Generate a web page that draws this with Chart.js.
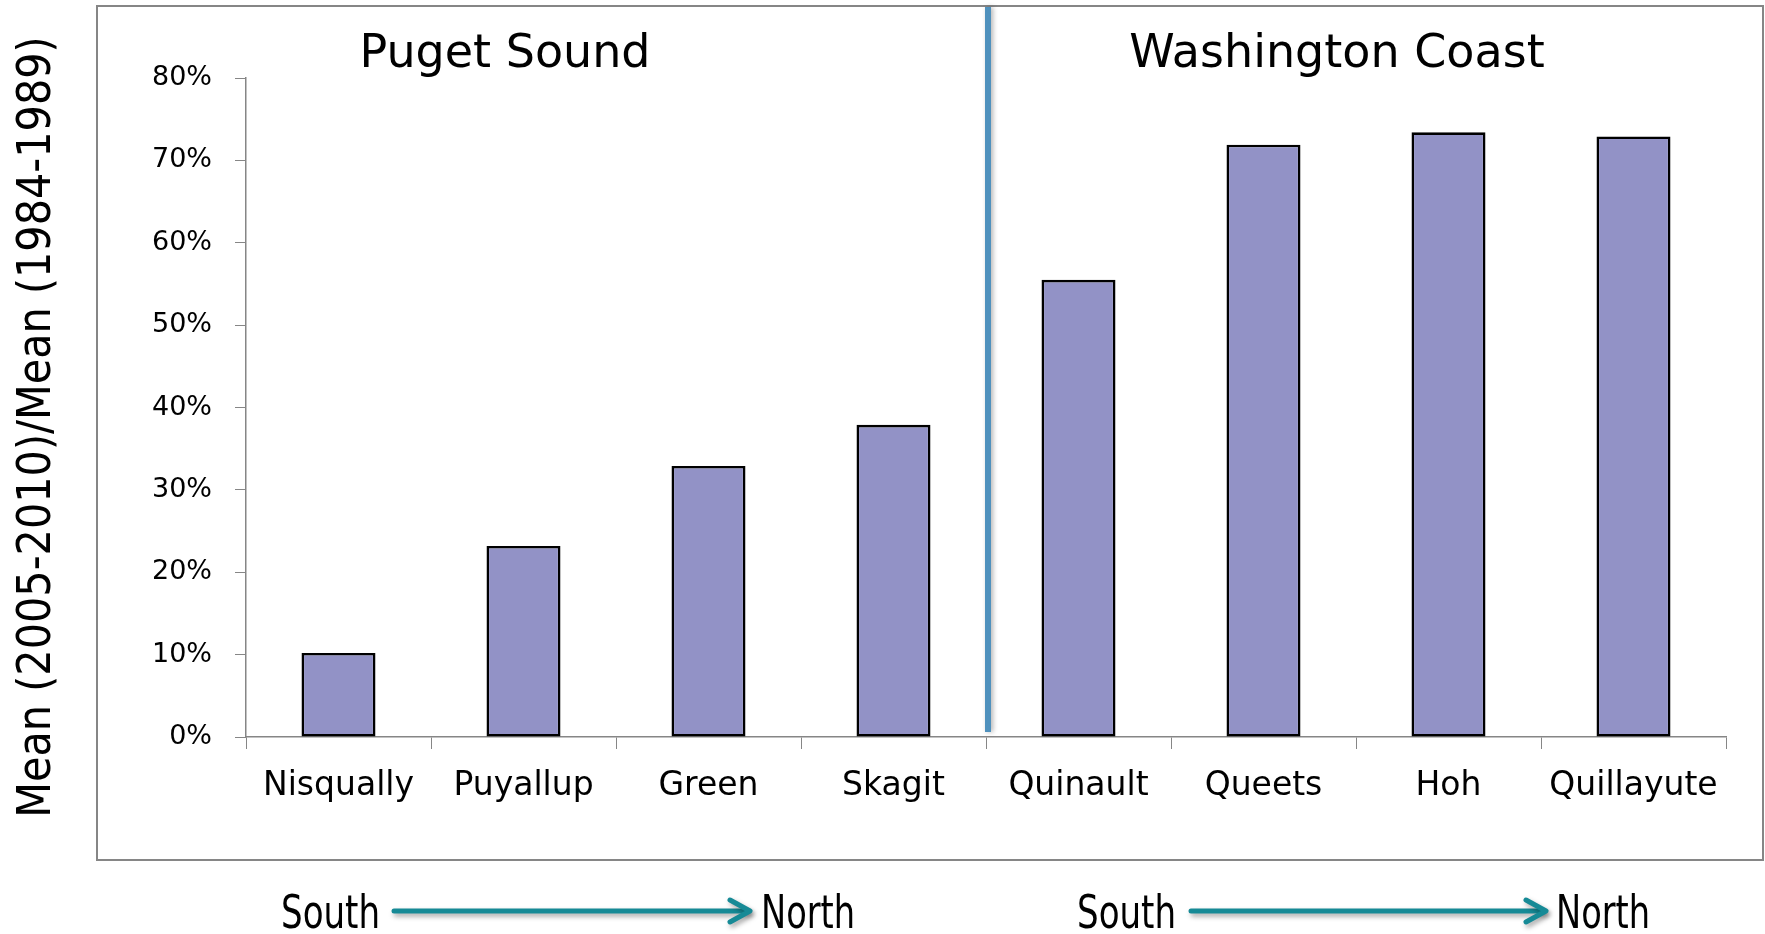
<!DOCTYPE html>
<html>
<head>
<meta charset="utf-8">
<script src="https://cdn.jsdelivr.net/npm/chart.js@4/dist/chart.umd.min.js"></script>
<style>
  html, body { margin: 0; padding: 0; background: #ffffff; }
  #wrap { width: 1765px; height: 934px; }
</style>
</head>
<body>
<div id="wrap"><canvas id="c" width="1765" height="934"></canvas></div>
<script>
// Rivers ordered south to north within each region
const rivers = ['Nisqually', 'Puyallup', 'Green', 'Skagit', 'Quinault', 'Queets', 'Hoh', 'Quillayute'];
// Ratio of recent mean (2005-2010) to historic mean (1984-1989), in percent
const ratioPercent = [10.2, 23.2, 32.9, 37.9, 55.5, 71.9, 73.4, 72.9];
const regionTitles = ['Puget Sound', 'Washington Coast'];
const yAxisTitle = 'Mean (2005-2010)/Mean (1984-1989)';
const yMin = 0, yMax = 80, yStep = 10;

const AXIS_GREY = '#868686';
const SANS = '"DejaVu Sans", Verdana, sans-serif';
const CONDENSED = '"DejaVu Sans Condensed", "DejaVu Sans", sans-serif';

// Draws text squeezed horizontally to a narrow face
function narrowText(ctx, text, x, y, squeeze) {
  ctx.save();
  ctx.translate(x, y);
  ctx.scale(squeeze, 1);
  ctx.fillText(text, 0, 0);
  ctx.restore();
}

// Frame, region divider, region titles, rotated axis title and direction arrows
const decorations = {
  id: 'decorations',
  afterDraw(chart) {
    const ctx = chart.ctx;
    const area = chart.chartArea;
    const xs = chart.scales.x;
    ctx.save();

    // outer frame
    ctx.strokeStyle = AXIS_GREY;
    ctx.lineWidth = 2;
    ctx.strokeRect(97, 6, 1666, 854);

    // divider between the two regions (boundary between 4th and 5th category)
    const splitX = (xs.getPixelForValue(3) + xs.getPixelForValue(4)) / 2 + 2;
    ctx.save();
    ctx.shadowColor = 'rgba(0,0,0,0.3)';
    ctx.shadowBlur = 5;
    ctx.shadowOffsetX = 2;
    ctx.strokeStyle = '#4F91BD';
    ctx.lineWidth = 6;
    ctx.beginPath();
    ctx.moveTo(splitX, 7);
    ctx.lineTo(splitX, area.bottom - 5);
    ctx.stroke();
    ctx.restore();

    // region titles
    ctx.fillStyle = '#000';
    ctx.font = '46px ' + SANS;
    ctx.textAlign = 'center';
    ctx.textBaseline = 'alphabetic';
    ctx.fillText(regionTitles[0], 505, 67);
    ctx.fillText(regionTitles[1], 1337, 67);

    // y axis title
    ctx.save();
    ctx.translate(50, 427);
    ctx.rotate(-Math.PI / 2);
    ctx.font = '46px ' + CONDENSED;
    ctx.textAlign = 'center';
    ctx.textBaseline = 'alphabetic';
    ctx.fillText(yAxisTitle, 0, 0);
    ctx.restore();

    // South -> North arrows
    const arrows = [
      { south: 281, x0: 394, x1: 750, north: 761 },
      { south: 1077, x0: 1191, x1: 1546, north: 1556 }
    ];
    const ay = 911;
    arrows.forEach(a => {
      ctx.save();
      ctx.shadowColor = 'rgba(0,0,0,0.35)';
      ctx.shadowBlur = 5;
      ctx.shadowOffsetX = 2;
      ctx.shadowOffsetY = 3;
      ctx.strokeStyle = '#168A96';
      ctx.lineWidth = 5;
      ctx.lineCap = 'round';
      ctx.lineJoin = 'round';
      ctx.beginPath();
      ctx.moveTo(a.x0, ay);
      ctx.lineTo(a.x1 - 2, ay);
      ctx.stroke();
      ctx.beginPath();
      ctx.moveTo(a.x1 - 20, ay - 11);
      ctx.lineTo(a.x1, ay);
      ctx.lineTo(a.x1 - 20, ay + 11);
      ctx.stroke();
      ctx.restore();

      ctx.fillStyle = '#000';
      ctx.font = '46px ' + CONDENSED;
      ctx.textAlign = 'left';
      ctx.textBaseline = 'alphabetic';
      const southW = ctx.measureText('South').width;
      const northW = ctx.measureText('North').width;
      narrowText(ctx, 'South', a.south, 928, 99 / southW);
      narrowText(ctx, 'North', a.north, 928, 94 / northW);
    });

    ctx.restore();
  }
};

new Chart(document.getElementById('c'), {
  type: 'bar',
  data: {
    labels: rivers,
    datasets: [{
      data: ratioPercent,
      backgroundColor: '#9292C6',
      borderColor: '#000000',
      borderWidth: 2.6,
      borderSkipped: false,
      barPercentage: 0.4,
      categoryPercentage: 1.0
    }]
  },
  options: {
    responsive: false,
    devicePixelRatio: 1,
    animation: false,
    layout: { padding: { left: 0, top: 78, right: 39, bottom: 0 } },
    plugins: { legend: { display: false }, tooltip: { enabled: false }, title: { display: false } },
    scales: {
      x: {
        grid: {
          display: true, offset: true, drawOnChartArea: false, drawTicks: true,
          tickLength: 12, color: AXIS_GREY, lineWidth: 1
        },
        border: { display: true, color: AXIS_GREY, width: 1.5 },
        ticks: {
          color: '#000', padding: 18, maxRotation: 0, autoSkip: false,
          font: { family: SANS, size: 33 }
        },
        afterFit(scale) { scale.height = 934 - 737; }
      },
      y: {
        min: yMin, max: yMax,
        grid: {
          display: true, drawOnChartArea: false, drawTicks: true,
          tickLength: 11, color: AXIS_GREY, lineWidth: 1
        },
        border: { display: true, color: AXIS_GREY, width: 1.5 },
        ticks: {
          stepSize: yStep, color: '#000', padding: 23,
          font: { family: SANS, size: 27 },
          callback: v => v + '%'
        },
        afterFit(scale) { scale.width = 246; }
      }
    }
  },
  plugins: [decorations]
});
</script>
</body>
</html>
